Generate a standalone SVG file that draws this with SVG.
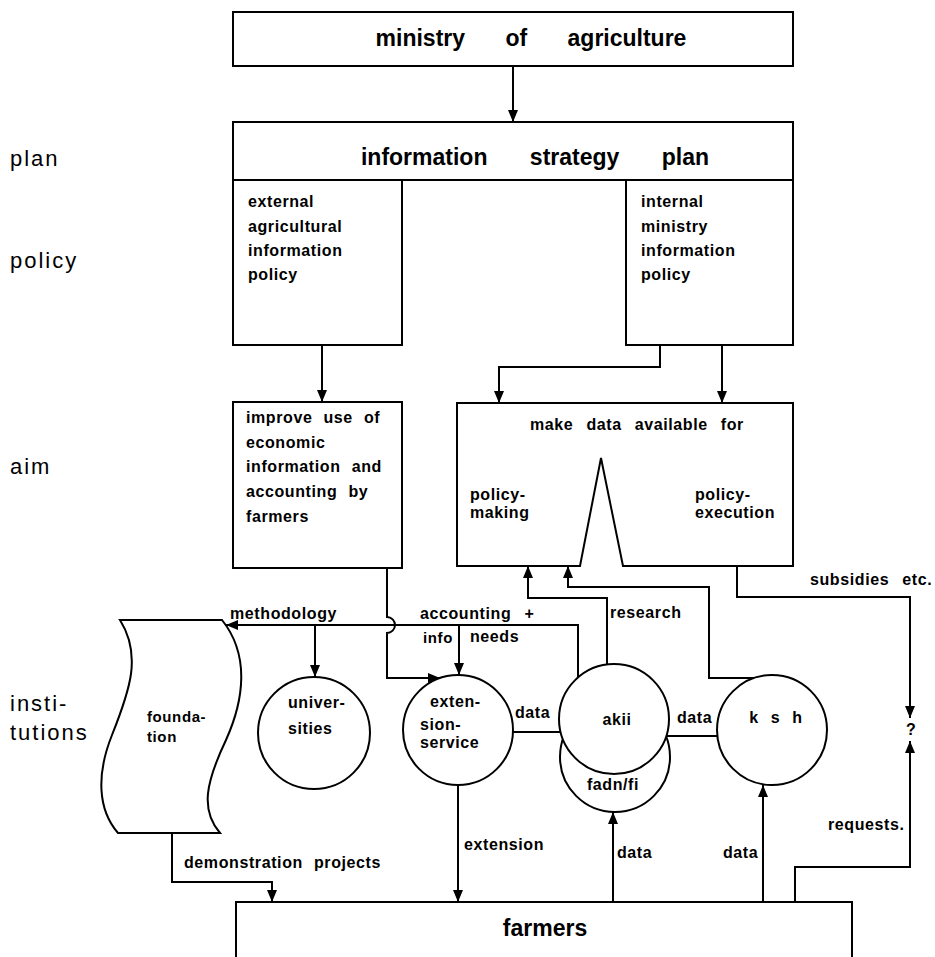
<svg xmlns="http://www.w3.org/2000/svg" width="935" height="957" viewBox="0 0 935 957">
<style>
.box{fill:#fff;stroke:#000;stroke-width:2}
.ln{fill:none;stroke:#000;stroke-width:2}
.t{font-family:"Liberation Sans",Arial,sans-serif;font-weight:bold;font-size:16px;letter-spacing:0.6px;fill:#000}
.big{font-family:"Liberation Sans",Arial,sans-serif;font-weight:bold;font-size:23px;fill:#000}
.lab{font-family:"Liberation Sans",Arial,sans-serif;font-size:22px;letter-spacing:2px;fill:#000}
</style>
<defs>
<marker id="ah" viewBox="0 0 12 10" refX="12" refY="5" markerWidth="12" markerHeight="10" orient="auto" markerUnits="userSpaceOnUse">
<path d="M0,0 L12,5 L0,10 Z" fill="#000"/>
</marker>
</defs>
<rect width="935" height="957" fill="#fff"/>

<g id="row-labels">
<text class="lab" x="10" y="166">plan</text>
<text class="lab" x="10" y="268">policy</text>
<text class="lab" x="10" y="474">aim</text>
<text class="lab" x="10" y="711">insti-</text>
<text class="lab" x="10" y="740">tutions</text>
</g>

<g id="connectors">
<path class="ln" d="M513,66 V122" marker-end="url(#ah)"/>
<path class="ln" d="M322,345 V402" marker-end="url(#ah)"/>
<path class="ln" d="M660,345 V367 H499 V403" marker-end="url(#ah)"/>
<path class="ln" d="M722,345 V403" marker-end="url(#ah)"/>
<path class="ln" d="M387,568 V617 A8,8 0 0 1 387,633 V678 H440" marker-end="url(#ah)"/>
<path class="ln" d="M578,677 V625 H226" marker-end="url(#ah)"/>
<path class="ln" d="M315,625 V677" marker-end="url(#ah)"/>
<path class="ln" d="M459,625 V675" marker-end="url(#ah)"/>
<path class="ln" d="M607,664 V598 H528 V566" marker-end="url(#ah)"/>
<path class="ln" d="M754,678 H709 V587 H568 V566" marker-end="url(#ah)"/>
<path class="ln" d="M737,566 V597 H910 V718" marker-end="url(#ah)"/>
<path class="ln" d="M513,732 H560"/>
<path class="ln" d="M666,736 H717"/>
<path class="ln" d="M458,785 V902" marker-end="url(#ah)"/>
<path class="ln" d="M613,902 V812" marker-end="url(#ah)"/>
<path class="ln" d="M763,902 V785" marker-end="url(#ah)"/>
<path class="ln" d="M795,902 V867 H910 V741" marker-end="url(#ah)"/>
<path class="ln" d="M172,833 V882 H272 V902" marker-end="url(#ah)"/>
<text class="t" x="230" y="619">methodology</text>
<text class="t" x="420" y="619" word-spacing="8">accounting +</text>
<text class="t" x="423" y="643" style="font-size:15px">info</text>
<text class="t" x="470" y="642">needs</text>
<text class="t" x="610" y="618">research</text>
<text class="t" x="515" y="718">data</text>
<text class="t" x="677" y="723">data</text>
<text class="t" x="810" y="585" word-spacing="8">subsidies etc.</text>
<text class="t" x="906" y="735">?</text>
<text class="t" x="828" y="830">requests.</text>
<text class="t" x="464" y="850">extension</text>
<text class="t" x="617" y="858">data</text>
<text class="t" x="723" y="858">data</text>
<text class="t" x="184" y="868" word-spacing="6">demonstration projects</text>
</g>

<g id="ministry">
<rect class="box" x="233" y="12" width="560" height="54"/>
<text class="big" x="531" y="46" text-anchor="middle" word-spacing="34">ministry of agriculture</text>
</g>

<g id="strategy-plan">
<rect class="box" x="233" y="122" width="560" height="58"/>
<text class="big" x="535" y="165" text-anchor="middle" word-spacing="36">information strategy plan</text>
</g>

<g id="external-policy">
<rect class="box" x="233" y="180" width="169" height="165"/>
<text class="t" x="248" y="207">external</text>
<text class="t" x="248" y="232">agricultural</text>
<text class="t" x="248" y="256">information</text>
<text class="t" x="248" y="280">policy</text>
</g>

<g id="internal-policy">
<rect class="box" x="626" y="180" width="167" height="165"/>
<text class="t" x="641" y="207">internal</text>
<text class="t" x="641" y="232">ministry</text>
<text class="t" x="641" y="256">information</text>
<text class="t" x="641" y="280">policy</text>
</g>

<g id="improve">
<rect class="box" x="233" y="402" width="169" height="166"/>
<text class="t" x="246" y="423" word-spacing="6">improve use of</text>
<text class="t" x="246" y="448">economic</text>
<text class="t" x="246" y="472" word-spacing="6">information and</text>
<text class="t" x="246" y="497" word-spacing="6">accounting by</text>
<text class="t" x="246" y="522">farmers</text>
</g>

<g id="make-data">
<path class="box" d="M457,403 H793 V566 H623 L601,458 L580,566 H457 Z"/>
<text class="t" x="637" y="430" text-anchor="middle" word-spacing="8">make data available for</text>
<text class="t" x="470" y="500">policy-</text>
<text class="t" x="470" y="518">making</text>
<text class="t" x="695" y="500">policy-</text>
<text class="t" x="695" y="518">execution</text>
</g>

<g id="foundation">
<path class="box" d="M120,620 H222 C250,655 244,700 226,740 C206,782 200,810 220,833 H118 C98,810 96,775 112,735 C130,690 142,655 120,620 Z"/>
<text class="t" x="147" y="722" style="font-size:15px">founda-</text>
<text class="t" x="147" y="742" style="font-size:15px">tion</text>
</g>

<g id="universities">
<circle class="box" cx="314" cy="733" r="56"/>
<text class="t" x="288" y="708">univer-</text>
<text class="t" x="288" y="734">sities</text>
</g>

<g id="extension-service">
<circle class="box" cx="458" cy="730" r="55"/>
<text class="t" x="430" y="707">exten-</text>
<text class="t" x="420" y="730">sion-</text>
<text class="t" x="420" y="748">service</text>
</g>

<g id="fadn">
<circle class="box" cx="615" cy="757" r="55"/>
<text class="t" x="613" y="790" text-anchor="middle">fadn/fi</text>
</g>

<g id="akii">
<circle class="box" cx="614" cy="719" r="55"/>
<text class="t" x="617" y="725" text-anchor="middle">akii</text>
</g>

<g id="ksh">
<circle class="box" cx="772" cy="730" r="55"/>
<text class="t" x="776" y="723" text-anchor="middle" word-spacing="7">k s h</text>
</g>

<g id="farmers">
<path class="ln" d="M236,957 V902 H852 V957"/>
<text class="big" x="545" y="936" text-anchor="middle">farmers</text>
</g>
</svg>
